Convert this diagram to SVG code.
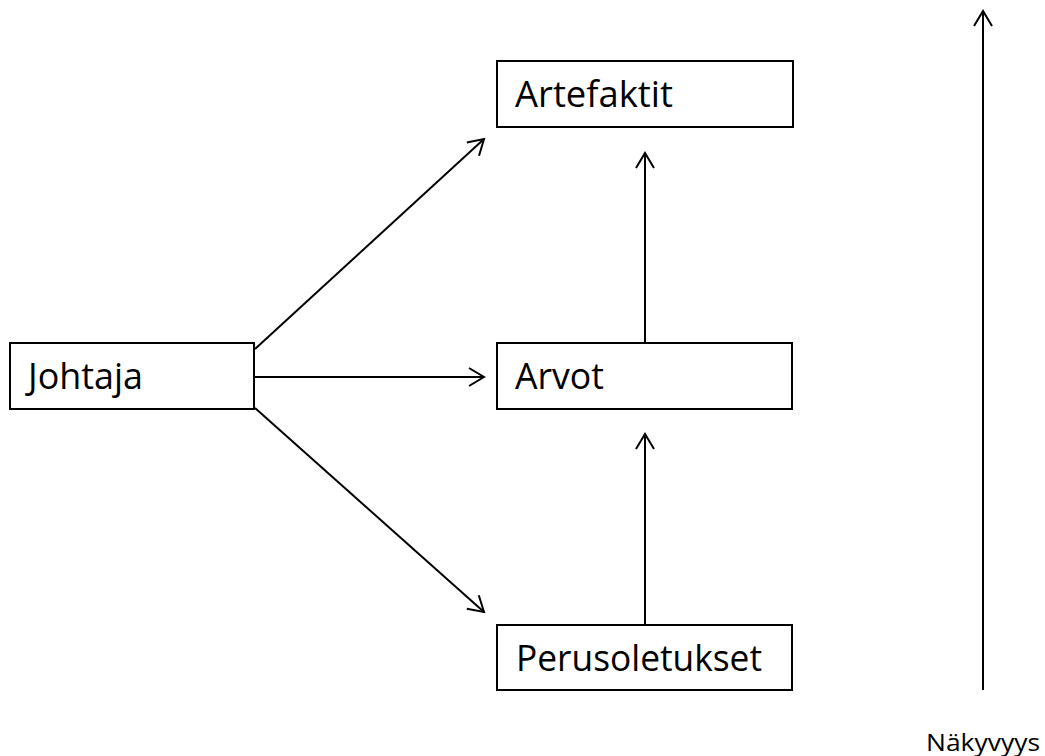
<svg xmlns="http://www.w3.org/2000/svg" width="1045" height="756" viewBox="0 0 1045 756">
<style>
.box{fill:#fff;stroke:#000;stroke-width:2}
.lbl{font-family:"Open Sans","Liberation Sans",sans-serif;font-size:36px;fill:#000}
.sm{font-family:"Open Sans","Liberation Sans",sans-serif;font-size:24px;fill:#000}
.con{stroke:#000;stroke-width:2;fill:none;marker-end:url(#ah)}
</style>
<defs>
<marker id="ah" markerUnits="userSpaceOnUse" markerWidth="24" markerHeight="24" viewBox="-20 -12 24 24" refX="0" refY="0" orient="auto">
<path d="M-15,-9 L0,0 L-15,9" fill="none" stroke="#000" stroke-width="2"/>
</marker>
</defs>
<rect width="1045" height="756" fill="#fff"/>
<g id="connectors">
<line class="con" x1="255" y1="349" x2="484" y2="139"/>
<line class="con" x1="255" y1="377" x2="484" y2="377"/>
<line class="con" x1="255" y1="408" x2="484" y2="612"/>
<line class="con" x1="645" y1="343" x2="645" y2="153"/>
<line class="con" x1="645" y1="625" x2="645" y2="434"/>
<line class="con" x1="983" y1="690" x2="983" y2="11"/>
</g>
<g id="artefaktit">
<rect class="box" x="497" y="61" width="296" height="66"/>
<text class="lbl" x="515" y="107" textLength="158" lengthAdjust="spacingAndGlyphs">Artefaktit</text>
</g>
<g id="johtaja">
<rect class="box" x="10" y="343" width="244" height="66"/>
<text class="lbl" x="28" y="389" textLength="115" lengthAdjust="spacingAndGlyphs">Johtaja</text>
</g>
<g id="arvot">
<rect class="box" x="497" y="343" width="295" height="66"/>
<text class="lbl" x="515" y="389" textLength="89" lengthAdjust="spacingAndGlyphs">Arvot</text>
</g>
<g id="perusoletukset">
<rect class="box" x="497" y="625" width="295" height="65"/>
<text class="lbl" x="516" y="671" textLength="246" lengthAdjust="spacingAndGlyphs">Perusoletukset</text>
</g>
<g id="nakyvyys">
<text class="sm" x="926" y="751" textLength="114" lengthAdjust="spacingAndGlyphs">Näkyvyys</text>
</g>
</svg>
